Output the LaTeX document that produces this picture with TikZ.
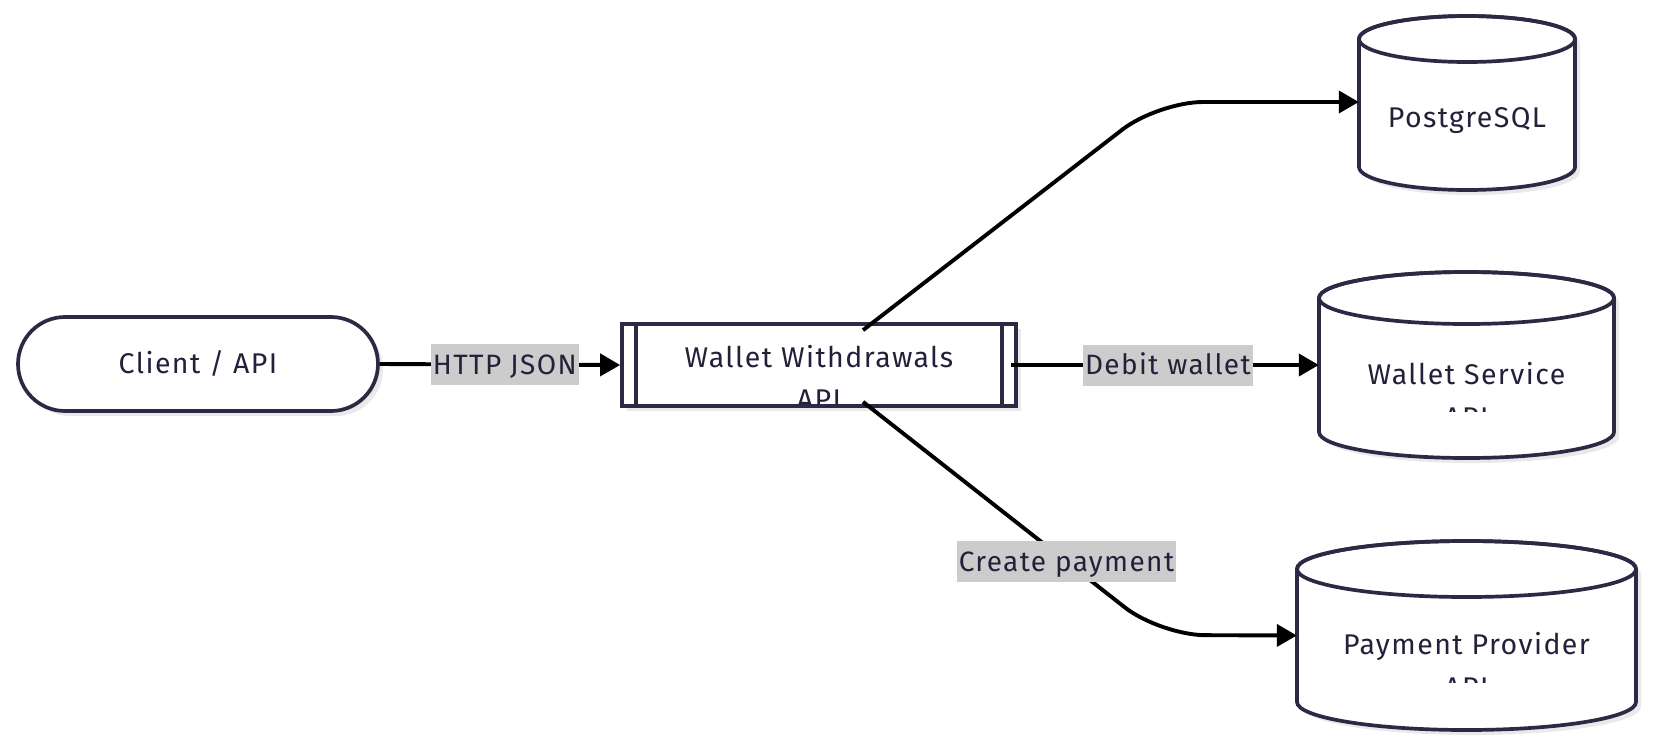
\documentclass[tikz,border=0pt]{standalone}
\usepackage{fontspec}
\setmainfont{Fira Sans}[LetterSpace=5]
\usetikzlibrary{arrows.meta}
\definecolor{strk}{HTML}{2B2A44}
\definecolor{txtc}{HTML}{22213A}
\definecolor{lblbg}{HTML}{CCCCCC}
\definecolor{shad}{HTML}{E9E9E9}
\tikzset{
  base/.style={draw=strk, line width=3.7pt, fill=white, text=txtc, inner sep=0pt,
    font=\fontsize{28.5}{33}\selectfont, text height=19pt, text depth=0pt},
  stad/.style={base, rounded corners=47pt, minimum width=360pt, minimum height=94pt},
  wbox/.style={base, minimum width=394pt, minimum height=82pt},
  hold/.style={draw=none, inner sep=0pt},
  txt/.style={text=txtc, inner sep=0pt, font=\fontsize{28.5}{33}\selectfont, anchor=base},
  lbl/.style={fill=lblbg, text=txtc, inner xsep=2pt, inner ysep=0pt,
    font=\fontsize{28}{33}\selectfont, text height=19pt, text depth=0pt, minimum height=41pt},
  conn/.style={draw=black, line width=3.9pt, -{Triangle[length=20pt,width=22pt]}},
  cylline/.style={draw=strk, line width=3.7pt, fill=white},
}
\begin{document}
\begin{tikzpicture}[x=1pt,y=-1pt]
\useasboundingbox (0,0) rectangle (1654,748);
% shadows
\fill[shad, rounded corners=47pt] (23,322) rectangle (383,416);
\fill[shad] (627,329) rectangle (1021,411);
\fill[shad] (1364,44) -- (1364,172) arc[start angle=180,end angle=360,x radius=108pt,y radius=23pt] -- (1580,44) arc[start angle=0,end angle=180,x radius=108pt,y radius=23pt] -- cycle;
\fill[shad] (1324,303) -- (1324,437) arc[start angle=180,end angle=360,x radius=147.5pt,y radius=26pt] -- (1619,303) arc[start angle=0,end angle=180,x radius=147.5pt,y radius=26pt] -- cycle;
\fill[shad] (1302,574) -- (1302,707) arc[start angle=180,end angle=360,x radius=169.5pt,y radius=28pt] -- (1641,574) arc[start angle=0,end angle=180,x radius=169.5pt,y radius=28pt] -- cycle;

% client
\node[stad] (client) at (198,364) {Client / API};

% wallet withdrawals
\node[wbox] (ww) at (819,365) {};
\draw[strk, line width=3.7pt] ([xshift=16pt]ww.north west) -- ([xshift=16pt]ww.south west);
\draw[strk, line width=3.7pt] ([xshift=-16pt]ww.north east) -- ([xshift=-16pt]ww.south east);
\begin{scope}
\clip (638,326) rectangle (999,403);
\node[txt] (wwt1) at (819,367) {Wallet Withdrawals};
\node[txt] (wwt2) at (819,409) {API};
\end{scope}

% PostgreSQL
\node[hold, minimum width=216pt, minimum height=174pt] (pg) at (1467,103) {};
\filldraw[cylline] (1359,39) -- (1359,167) arc[start angle=180,end angle=360,x radius=108pt,y radius=23pt] -- (1575,39) arc[start angle=0,end angle=180,x radius=108pt,y radius=23pt] -- cycle;
\draw[strk, line width=3.7pt] (1467,39) ellipse[x radius=108pt, y radius=23pt];
\node[txt] (pgt) at (1467,127.5) {PostgreSQL};

% Wallet Service
\node[hold, minimum width=295pt, minimum height=186pt] (ws) at (1466.5,365) {};
\filldraw[cylline] (1319,298) -- (1319,432) arc[start angle=180,end angle=360,x radius=147.5pt,y radius=26pt] -- (1614,298) arc[start angle=0,end angle=180,x radius=147.5pt,y radius=26pt] -- cycle;
\draw[strk, line width=3.7pt] (1466.5,298) ellipse[x radius=147.5pt, y radius=26pt];
\begin{scope}
\clip (1321,326) rectangle (1612,411);
\node[txt] (wst1) at (1466.5,384.5) {Wallet Service};
\node[txt] (wst2) at (1466.5,427) {API};
\end{scope}

% Payment Provider
\node[hold, minimum width=339pt, minimum height=189pt] (pp) at (1466.5,635.5) {};
\filldraw[cylline] (1297,569) -- (1297,702) arc[start angle=180,end angle=360,x radius=169.5pt,y radius=28pt] -- (1636,569) arc[start angle=0,end angle=180,x radius=169.5pt,y radius=28pt] -- cycle;
\draw[strk, line width=3.7pt] (1466.5,569) ellipse[x radius=169.5pt, y radius=28pt];
\begin{scope}
\clip (1299,599) rectangle (1634,682);
\node[txt] (ppt1) at (1466.5,654.5) {Payment Provider};
\node[txt] (ppt2) at (1466.5,697) {API};
\end{scope}

% connectors
\draw[conn] (client.east) -- node[lbl, pos=0.52] {HTTP JSON} (ww.west);
\draw[conn] ([xshift=-7pt]ww.east) -- node[lbl, pos=0.51] {Debit wallet} (ws.west);
\draw[conn, rounded corners=45pt] ([xshift=44pt,yshift=-8pt]ww.north) -- (1158,102) -- ([yshift=1pt]pg.west);
\draw[conn, rounded corners=45pt] ([xshift=44pt,yshift=6pt]ww.south) -- node[lbl, pos=0.685, sharp corners] {Create payment} (1160,635) -- (pp.west);
\end{tikzpicture}
\end{document}
